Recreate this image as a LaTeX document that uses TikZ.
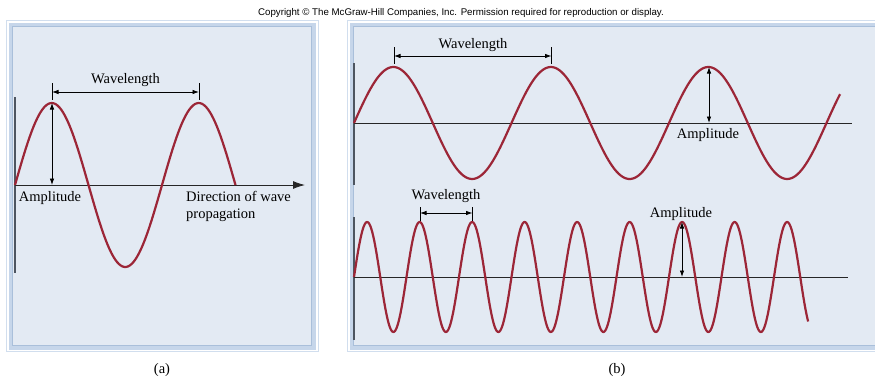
\documentclass[tikz,border=0pt]{standalone}
\usepackage{fontspec}
\setmainfont{Liberation Serif}
\newfontfamily\copyfont{Liberation Sans}
\usetikzlibrary{arrows.meta}

\definecolor{wavered}{HTML}{9C2637}
\definecolor{panelfill}{HTML}{E3EAF3}
\definecolor{panelband}{HTML}{C6D6EA}
\definecolor{panelline}{HTML}{A9BFDA}
\definecolor{bargray}{HTML}{4D5560}

\tikzset{
  wave/.style={wavered, line width=2.2pt, line join=round},
  axisline/.style={black!85, line width=0.9pt},
  leftbar/.style={bargray, line width=1.6pt},
  dimline/.style={<->, line width=0.8pt},
  dimtick/.style={line width=0.8pt},
  lbl/.style={font=\fontsize{14.5}{17}\selectfont, inner sep=0pt},
  outerframe/.style={panelband!80, line width=1pt},
  bandframe/.style={panelband, line width=4pt, fill=panelfill},
  innerframe/.style={panelline, line width=0.8pt}
}

\begin{document}
\begin{tikzpicture}[x=1pt, y=-1pt, >={Latex[length=6.5pt,width=4.5pt]}]
  \useasboundingbox (0,0) rectangle (875,380);
  % Draw copyright line
  \node[font=\copyfont\fontsize{9.7}{11}\selectfont, inner sep=0pt] (copy) at (461,13)
    {Copyright \textcopyright\ The McGraw-Hill Companies, Inc. Permission required for reproduction or display.};
  % Draw panel frames
  \draw[outerframe] (6,20) rectangle (318.5,351.5);
  \draw[bandframe] (10.5,24.5) rectangle (314,347.5);
  \draw[innerframe] (12.8,26.8) rectangle (311.7,345.2);
  \draw[outerframe] (347,20) rectangle (890,351.5);
  \draw[bandframe] (351.5,24.5) rectangle (890,347.5);
  \draw[innerframe] (353.8,26.8) rectangle (890,345.2);

  % (a): one wave, direction of propagation
  \draw[leftbar] (15,97) -- (15,273);
  \coordinate (a0) at (15,185);
  \coordinate (aend) at (305,185);
  \draw[axisline, -{Latex[length=12pt,width=8pt]}] (a0) -- (aend);
  \draw[wave] plot[domain=0:540, samples=120] ({15+\x/360*147}, {185-82*sin(\x)});
  \coordinate (ap1) at (52,103);
  \coordinate (ap2) at (199,103);
  \coordinate (ab1) at (52,185);
  \draw[dimtick] (52,83) -- (52,100);
  \draw[dimtick] (199,83) -- (199,100);
  \draw[dimline] (52,92) -- (199,92);
  \draw[dimline] (ab1) -- (ap1);
  \node[lbl] (awave) at (125.5,80) {Wavelength};
  \node[lbl] (aamp) at (50,198) {Amplitude};
  \node[lbl, align=left, anchor=west] (adir) at (186,206.5) {Direction of wave\\propagation};
  \node[lbl] (alab) at (162,370) {(a)};

  % (b) top: long wavelength
  \draw[leftbar] (354,63) -- (354,185);
  \coordinate (b0) at (354,123);
  \coordinate (bend) at (852,123);
  \draw[axisline] (b0) -- (bend);
  \draw[wave] plot[domain=0:1111, samples=240] ({354+\x/360*157.5}, {123-56*sin(\x)});
  \coordinate (bp1) at (709,67);
  \coordinate (bb1) at (709,123);
  \draw[dimtick] (394,47) -- (394,64);
  \draw[dimtick] (551.5,47) -- (551.5,64);
  \draw[dimline] (394,56) -- (551.5,56);
  \draw[dimline] (bb1) -- (bp1);
  \node[lbl] (bwave) at (473,45) {Wavelength};
  \node[lbl] (bamp) at (708,135) {Amplitude};

  % (b) bottom: short wavelength
  \draw[leftbar] (354,217) -- (354,340);
  \coordinate (c0) at (354,277);
  \coordinate (cend) at (848,277);
  \draw[axisline] (c0) -- (cend);
  \draw[wave] plot[domain=0:3114, samples=500] ({354+\x/360*52.5}, {277-55*sin(\x)});
  \coordinate (cp1) at (682,222);
  \coordinate (cb1) at (682,277);
  \draw[dimtick] (420,207) -- (420,221);
  \draw[dimtick] (472.5,207) -- (472.5,221);
  \draw[dimline] (420,213) -- (472.5,213);
  \draw[dimline] (cb1) -- (cp1);
  \node[lbl] (cwave) at (446,196) {Wavelength};
  \node[lbl] (camp) at (681,214) {Amplitude};
  \node[lbl] (blab) at (617,370) {(b)};
\end{tikzpicture}
\end{document}
